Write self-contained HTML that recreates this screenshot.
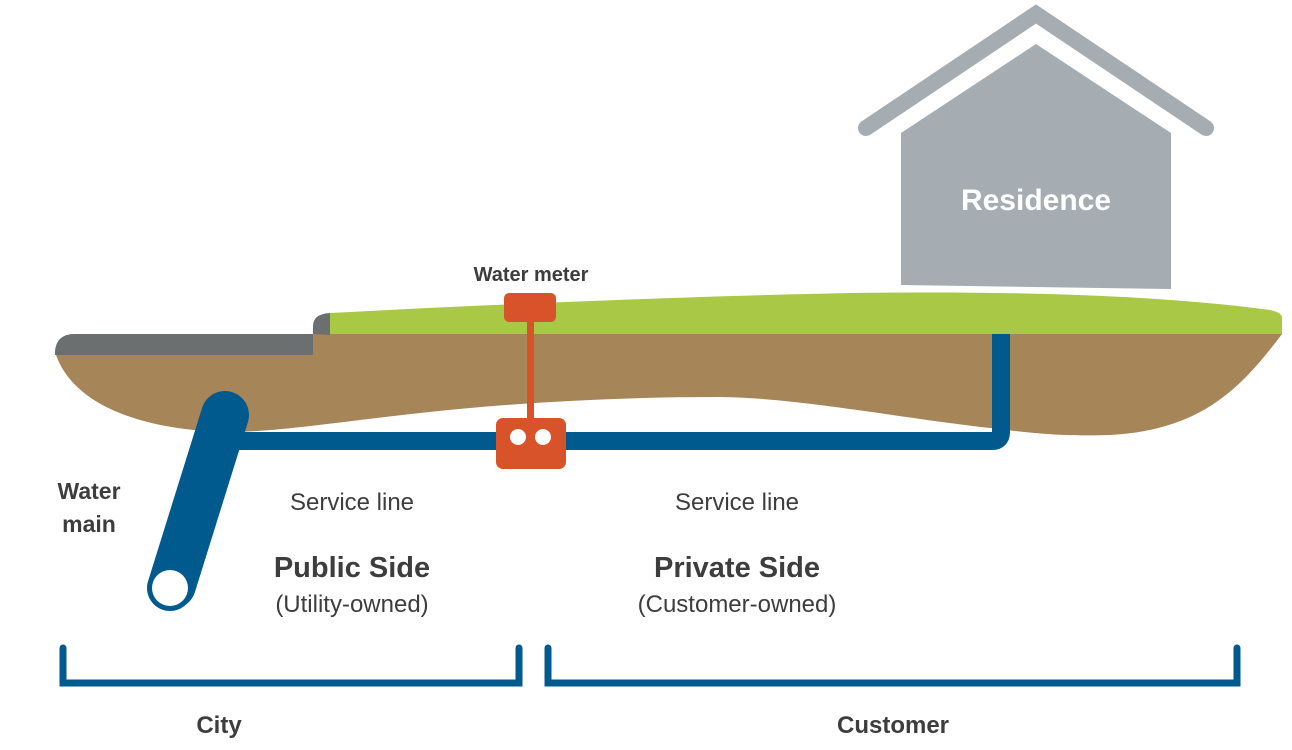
<!DOCTYPE html>
<html><head><style>
html,body{margin:0;padding:0;background:#fff;}
svg{display:block;}
text{font-family:"Liberation Sans",sans-serif;}
</style></head><body>
<svg width="1292" height="750" viewBox="0 0 1292 750" xmlns="http://www.w3.org/2000/svg">
<!-- house -->
<polyline points="866,128 1036,14 1206,128" fill="none" stroke="#a5adb2" stroke-width="16" stroke-linecap="round" stroke-linejoin="miter"/>
<polygon points="901,133 1036,44 1171,133 1171,289 901,285" fill="#a5adb2"/>
<text x="1036" y="210" text-anchor="middle" font-size="30" font-weight="bold" fill="#fff">Residence</text>
<!-- soil -->
<path d="M75,334 L1282,334 C1240,390 1200,430 1110,435 C1050,437 1010,430 990,428 C900,418 800,398 720,397 C620,397 520,402 420,413 C330,423 270,433 220,432 C130,428 70,400 55,352 Q56,334 75,334 Z" fill="#a68558"/>
<!-- grass -->
<path d="M330,313 C500,304 700,296 850,293 C1000,291 1150,294 1270,310 Q1284,313 1282,320 L1282,334 L330,334 Z" fill="#a9c846"/>
<!-- curb -->
<path d="M313,334 L313,326 Q313,314 330,313 L330,335 Z" fill="#6b6f6f"/>
<path d="M75,334 L313,334 L313,355 L55,355 L55,352 Q56,334 75,334 Z" fill="#6b6f6f"/>
<!-- service pipe -->
<path d="M220,441 L992,441 Q1001,441 1001,432 L1001,334" fill="none" stroke="#005a8e" stroke-width="18"/>
<!-- water main -->
<line x1="225" y1="415" x2="172" y2="585" stroke="#005a8e" stroke-width="48" stroke-linecap="round"/>
<circle cx="170" cy="588" r="23" fill="#005a8e"/>
<circle cx="170" cy="588" r="18" fill="#fff"/>
<!-- meter -->
<rect x="527" y="318" width="7" height="104" fill="#d9532a"/>
<rect x="504" y="293" width="52" height="29" rx="5" fill="#d9532a"/>
<rect x="496" y="418" width="70" height="51" rx="7" fill="#d9532a"/>
<circle cx="518" cy="437" r="8" fill="#fff"/>
<circle cx="543" cy="437" r="8" fill="#fff"/>
<!-- brackets -->
<path d="M63,648 L63,683 L519,683 L519,648" fill="none" stroke="#005a8e" stroke-width="7" stroke-linecap="round"/>
<path d="M548,648 L548,683 L1237,683 L1237,648" fill="none" stroke="#005a8e" stroke-width="7" stroke-linecap="round"/>
<!-- labels -->
<g fill="#3d3d3d">
<text x="531" y="281" text-anchor="middle" font-size="20" font-weight="bold">Water meter</text>
<text x="89" y="499" text-anchor="middle" font-size="23" font-weight="bold">Water</text>
<text x="89" y="532" text-anchor="middle" font-size="23" font-weight="bold">main</text>
<text x="352" y="510" text-anchor="middle" font-size="24">Service line</text>
<text x="737" y="510" text-anchor="middle" font-size="24">Service line</text>
<text x="352" y="577" text-anchor="middle" font-size="29" font-weight="bold">Public Side</text>
<text x="352" y="612" text-anchor="middle" font-size="24">(Utility-owned)</text>
<text x="737" y="577" text-anchor="middle" font-size="29" font-weight="bold">Private Side</text>
<text x="737" y="612" text-anchor="middle" font-size="24">(Customer-owned)</text>
<text x="219" y="733" text-anchor="middle" font-size="24" font-weight="bold">City</text>
<text x="893" y="733" text-anchor="middle" font-size="24" font-weight="bold">Customer</text>
</g>
</svg>
</body></html>
